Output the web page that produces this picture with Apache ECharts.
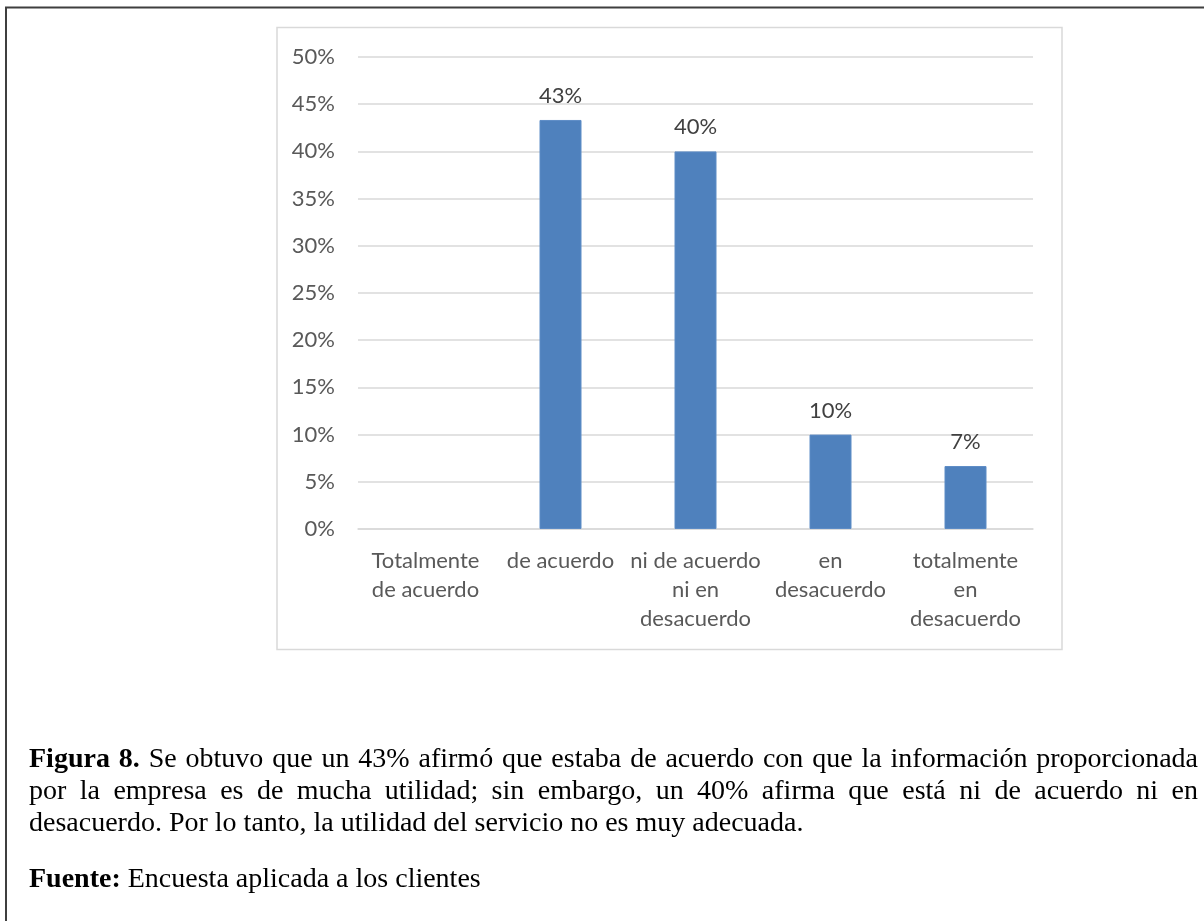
<!DOCTYPE html>
<html>
<head>
<meta charset="utf-8">
<script src="https://cdn.jsdelivr.net/npm/echarts@6/dist/echarts.min.js"></script>
<style>
  html, body { margin: 0; padding: 0; background: #fff; }
  #chart { position: absolute; left: 0; top: 0; width: 1204px; height: 921px; }
  .caption {
    position: absolute; left: 29px; width: 1169px;
    font-family: "Liberation Serif", "Times New Roman", serif;
    font-size: 28px; line-height: 32px; color: #000;
  }
  .caption .j { text-align: justify; text-align-last: justify; }
  .caption .l { text-align: left; }
</style>
</head>
<body>
<div id="chart"></div>
<div class="caption" style="top:741.5px">
  <div class="j"><b>Figura 8.</b> Se obtuvo que un 43% afirmó que estaba de acuerdo con que la información proporcionada</div>
  <div class="j">por la empresa es de mucha utilidad; sin embargo, un 40% afirma que está ni de acuerdo ni en</div>
  <div class="l">desacuerdo. Por lo tanto, la utilidad del servicio no es muy adecuada.</div>
</div>
<div class="caption" style="top:861.5px">
  <div class="l"><b>Fuente:</b> Encuesta aplicada a los clientes</div>
</div>
<script>
// Survey answers (share of respondents, %)
const categories = [
  'Totalmente\nde acuerdo',
  'de acuerdo',
  'ni de acuerdo\nni en\ndesacuerdo',
  'en\ndesacuerdo',
  'totalmente\nen\ndesacuerdo'
];
const shares = [null, 43.33, 40.0, 10.0, 6.67];

const yMin = 0;
const yMax = 50;
const yStep = 5;

const sansFont = 'Lato, "Open Sans", sans-serif';

const chart = echarts.init(document.getElementById('chart'), null, { renderer: 'canvas' });

chart.setOption({
  backgroundColor: '#ffffff',
  animation: false,
  grid: { left: 358, top: 57, width: 675, height: 472, containLabel: false },
  xAxis: {
    type: 'category',
    data: categories,
    axisLine: { show: true, lineStyle: { color: '#d9d9d9', width: 1.5 } },
    axisTick: { show: false },
    axisLabel: {
      interval: 0,
      color: '#595959',
      fontFamily: sansFont,
      fontSize: 22,
      lineHeight: 29,
      margin: 17
    }
  },
  yAxis: {
    type: 'value',
    min: yMin,
    max: yMax,
    interval: yStep,
    axisLine: { show: false },
    axisTick: { show: false },
    splitLine: { lineStyle: { color: '#d9d9d9', width: 1.5 } },
    axisLabel: {
      formatter: '{value}%',
      color: '#595959',
      fontFamily: sansFont,
      fontSize: 22,
      margin: 23
    }
  },
  series: [{
    type: 'bar',
    data: shares,
    barWidth: 42,
    itemStyle: { color: '#4f81bd', borderColor: '#5d8cc6', borderWidth: 1 },
    label: {
      show: true,
      position: 'top',
      distance: 11,
      color: '#404040',
      fontFamily: sansFont,
      fontSize: 22,
      lineHeight: 26,
      formatter: p => (p.value == null ? '' : Math.round(p.value) + '%')
    }
  }],
  graphic: [
    {
      // outer page frame
      type: 'rect', silent: true, z: -10,
      shape: { x: 6, y: 7.5, width: 1400, height: 1100 },
      style: { fill: null, stroke: '#3f3f3f', lineWidth: 2 }
    },
    {
      // chart area border
      type: 'rect', silent: true, z: -5,
      shape: { x: 277, y: 27.5, width: 785, height: 622 },
      style: { fill: null, stroke: '#d9d9d9', lineWidth: 1.5 }
    }
  ]
});
</script>
</body>
</html>
